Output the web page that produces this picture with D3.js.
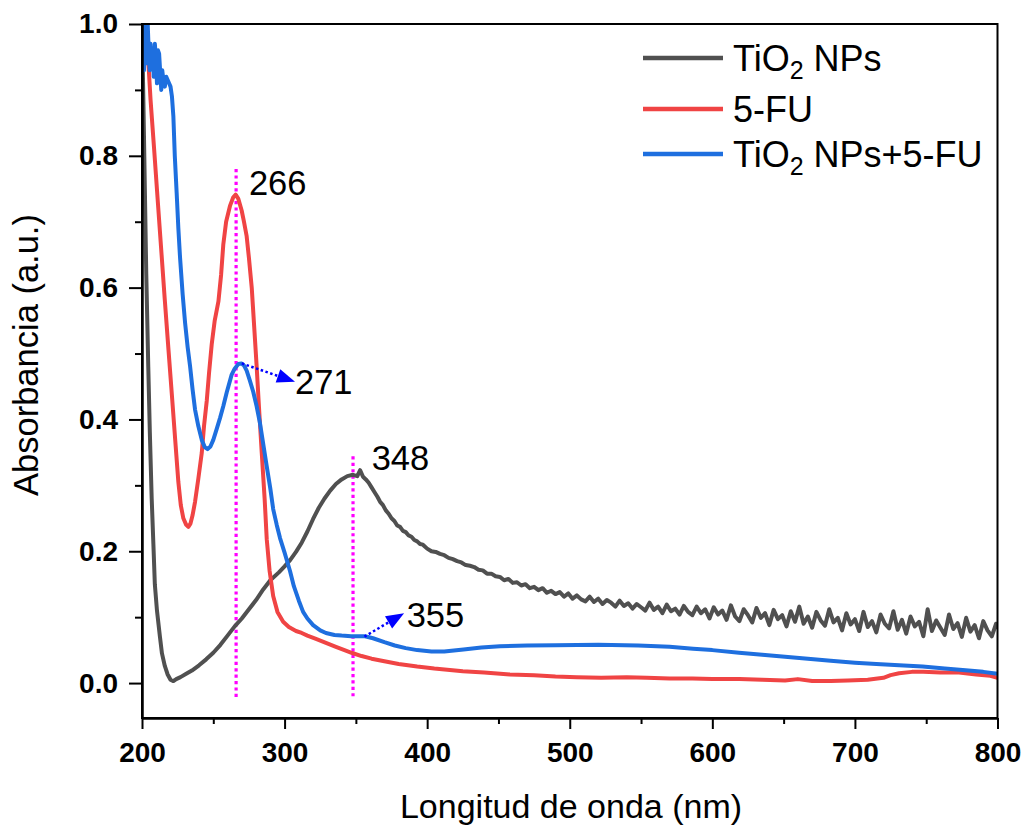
<!DOCTYPE html>
<html>
<head>
<meta charset="utf-8">
<script src="https://cdn.jsdelivr.net/npm/d3@7"></script>
<style>
body{margin:0;background:#fff;}
svg{display:block;font-family:"Liberation Sans",Arial,sans-serif;}
</style>
</head>
<body>
<div id="canvas"></div>
<script>
// TiO2 NPs (grey)
var tioWl = [200,201,202,203,204.4,205.5,206.8,208,209,210.5,212.6,214,216,218,220,222,224,227,231,235,240,245,250,255,260,265,270,275,280,285,290,296,300,304,308,312,316,320,324,328,332,336,340,344,348,351,353,355,357,359,361,363,365,367,369,371,373,375,377,379,381,383,385,387,389,391,393,395,397,
  400,403,406,409,412,415,418,421,424,427,430,433,436,439,442,445,448,451,454,457,460,463,466,469,472,475,478,481,484,487,490,493,496,499,502,505,508,511,514,517,520,523,526,529,532,535,538,541,544,547,550,553,556,559,562,565,568,571,574,577,580,583,586,589,592,595,598,601,604,607,610,613,616,619,622,625,628,631,634,637,640,643,646,649,652,655,658,661,664,667,670,673,676,679,682,685,688,691,694,697,700,703,706,709,712,715,718,721,724,727,730,733,736,739,742,745,748,751,754,757,760,763,766,769,772,775,778,781,784,787,790,793,796,799,800];
var tioAbs = [1.0,0.88,0.75,0.62,0.48,0.38,0.28,0.21,0.15,0.11,0.07,0.045,0.026,0.013,0.005,0.003,0.006,0.009,0.014,0.019,0.027,0.036,0.046,0.058,0.072,0.086,0.098,0.112,0.126,0.142,0.156,0.168,0.177,0.187,0.199,0.213,0.23,0.249,0.266,0.28,0.292,0.302,0.309,0.314,0.316,0.314,0.323,0.313,0.309,0.304,0.297,0.290,0.283,0.275,0.270,0.262,0.257,0.250,0.246,0.239,0.237,0.231,0.229,0.224,0.222,0.217,0.215,0.211,0.210,
  0.204,0.200,0.199,0.196,0.194,0.190,0.188,0.185,0.183,0.179,0.178,0.176,0.172,0.171,0.166,0.166,0.162,0.161,0.156,0.158,0.152,0.153,0.148,0.150,0.144,0.146,0.141,0.144,0.137,0.140,0.135,0.138,0.131,0.136,0.128,0.133,0.127,0.124,0.131,0.123,0.128,0.120,0.126,0.122,0.116,0.125,0.117,0.121,0.113,0.120,0.115,0.110,0.122,0.111,0.116,0.106,0.119,0.109,0.113,0.104,0.117,0.108,0.103,0.116,0.106,0.112,0.098,0.115,0.104,0.110,0.096,0.118,0.101,0.094,0.112,0.103,0.092,0.114,0.099,0.106,0.088,0.111,0.097,0.103,0.086,0.109,0.093,0.116,0.090,0.101,0.084,0.108,0.095,0.087,0.112,0.092,0.099,0.080,0.106,0.089,0.097,0.079,0.108,0.085,0.094,0.077,0.104,0.090,0.083,0.109,0.081,0.096,0.075,0.101,0.086,0.093,0.071,0.112,0.079,0.095,0.084,0.073,0.104,0.082,0.091,0.070,0.099,0.078,0.088,0.068,0.094,0.080,0.071,0.090,0.082];

// 5-FU (red)
var fuWl = [200,202,204,206,208.5,211,213.5,216,218.6,221.2,223.6,225.5,227.2,229,231,232.5,234,235.5,237.2,239.5,241.9,243.5,245.4,247,248.9,251,253.6,255.5,257,259,261.7,264,265.7,267.5,269.9,271.5,273.4,275,277,278.7,280.4,282,284,286,287.5,289.5,292,295,299,303,308,312,316,322,329,336,342,347,354,361,370,380,393,405,425,440,458,475,490,505,522,540,554,570,586,600,619,635,651,660,670,683,695,709,720,725,731,740,748,760,773,785,795,800];
var fuAbs = [0.99,1.0,0.96,0.885,0.81,0.733,0.657,0.581,0.505,0.43,0.36,0.305,0.27,0.25,0.24,0.237,0.242,0.255,0.275,0.31,0.349,0.39,0.428,0.47,0.514,0.55,0.579,0.62,0.665,0.70,0.724,0.737,0.741,0.735,0.717,0.70,0.678,0.645,0.599,0.54,0.481,0.42,0.349,0.28,0.218,0.17,0.132,0.108,0.093,0.085,0.079,0.076,0.072,0.067,0.061,0.055,0.05,0.046,0.041,0.037,0.033,0.029,0.025,0.022,0.018,0.016,0.013,0.012,0.010,0.009,0.008,0.009,0.008,0.007,0.007,0.006,0.006,0.005,0.004,0.006,0.003,0.003,0.004,0.005,0.008,0.012,0.015,0.017,0.017,0.016,0.016,0.013,0.011,0.008];

// TiO2 NPs + 5-FU (blue)
var mixWl = [200,200.7,201.4,202,202.7,203.4,204,204.7,205.4,206,206.8,207.5,208.2,209,209.7,210.5,211.2,212,212.7,213.5,214.2,215,216,217,218,219,220,221,222,223,224.3,225.5,226.7,228.5,230.2,232,233.7,235.5,237.2,239.5,241.9,244,246,248,250,252.3,254.7,257,259.4,262.9,265,267.6,269.9,271.5,273.4,275.5,278,280.4,282.7,285,287.4,290,292,294.5,296.8,300,303.8,306.5,310,313,316,320,325,329,335,340,346.6,352,356.4,362,370,377.3,385,393,403,412,425.5,438,451,470,490,520,548,570,586.5,600,618.7,635,651,667,683,700,715,731,747.5,763,779.7,790,800];
var mixAbs = [0.95,1.0,0.93,0.99,0.94,1.0,1.0,0.96,0.93,0.97,0.94,0.96,0.92,0.97,0.95,0.91,0.96,0.955,0.93,0.90,0.93,0.915,0.905,0.92,0.915,0.91,0.905,0.89,0.86,0.80,0.744,0.69,0.645,0.59,0.547,0.51,0.481,0.445,0.415,0.39,0.369,0.358,0.355,0.359,0.369,0.385,0.402,0.42,0.441,0.468,0.477,0.484,0.485,0.482,0.474,0.46,0.442,0.42,0.395,0.363,0.33,0.295,0.264,0.24,0.22,0.198,0.17,0.147,0.125,0.108,0.098,0.088,0.08,0.076,0.073,0.072,0.071,0.071,0.071,0.068,0.062,0.057,0.053,0.05,0.048,0.048,0.051,0.054,0.056,0.057,0.0575,0.058,0.057,0.055,0.052,0.05,0.046,0.043,0.040,0.037,0.034,0.031,0.029,0.027,0.025,0.022,0.019,0.017,0.014];

var seriesNames = ['TiO2 NPs','5-FU','TiO2 NPs+5-FU'];
var seriesColors = ['#505050','#f04444','#1e6fdf'];
var xTicks = [200,300,400,500,600,700,800];
var yTicks = [0.0,0.2,0.4,0.6,0.8,1.0];
var peakLines = [{nm:266, top:0.78},{nm:348, top:0.344}];

var W = 1024, H = 825;
var m = {t:24, r:26.5, b:107, l:142};
var w = W - m.l - m.r, h = H - m.t - m.b;

var svg = d3.select('#canvas').append('svg')
    .attr('width', W).attr('height', H);
var plot = svg.append('g').attr('transform','translate(' + m.l + ',' + m.t + ')');

var x = d3.scaleLinear().domain([200,800]).range([0,w]);
var y = d3.scaleLinear().domain([-0.053,1.0]).range([h,0]);

plot.append('clipPath').attr('id','clip')
  .append('rect').attr('width', w).attr('height', h);

// peak guide lines
plot.selectAll('.peak').data(peakLines).enter().append('line')
    .attr('x1', d => x(d.nm)).attr('x2', d => x(d.nm))
    .attr('y1', d => y(d.top)).attr('y2', y(-0.025))
    .attr('stroke','#ff00ff').attr('stroke-width',3.2)
    .attr('stroke-dasharray','3.2,3.2');

var line = d3.line().x(d => x(d[0])).y(d => y(d[1]));
var series = [d3.zip(tioWl, tioAbs), d3.zip(fuWl, fuAbs), d3.zip(mixWl, mixAbs)];

plot.append('g').attr('clip-path','url(#clip)')
  .selectAll('path').data(series).enter().append('path')
    .attr('d', line)
    .attr('fill','none')
    .attr('stroke', (d,i) => seriesColors[i])
    .attr('stroke-width', 4)
    .attr('stroke-linejoin','round');

// axes
plot.append('g').call(d3.axisLeft(y).tickValues(yTicks).tickFormat(d3.format('.1f')).tickSize(13).tickSizeOuter(0).tickPadding(11));
plot.append('g').call(d3.axisLeft(y).tickValues([0.1,0.3,0.5,0.7,0.9]).tickFormat('').tickSize(7).tickSizeOuter(0));
plot.append('g').attr('transform','translate(0,' + h + ')')
    .call(d3.axisBottom(x).tickValues(xTicks).tickSize(11).tickSizeOuter(0).tickPadding(13));
plot.append('g').attr('transform','translate(0,' + h + ')')
    .call(d3.axisBottom(x).tickValues([250,350,450,550,650,750]).tickFormat('').tickSize(6).tickSizeOuter(0));

plot.selectAll('.domain').attr('stroke','#000').attr('stroke-width',2);
plot.selectAll('.tick line').attr('stroke','#000').attr('stroke-width',2);
plot.selectAll('.tick text').attr('font-size',28).attr('font-weight','bold')
    .attr('font-family','"Liberation Sans",Arial,sans-serif').attr('fill','#000');

plot.append('rect').attr('width', w).attr('height', h)
    .attr('fill','none').attr('stroke','#000').attr('stroke-width',2);

// axis titles
svg.append('text').attr('x', 571).attr('y', 818).attr('text-anchor','middle')
    .attr('font-size',34).text('Longitud de onda (nm)');
svg.append('text').attr('transform','translate(38,355) rotate(-90)').attr('text-anchor','middle')
    .attr('font-size',34.5).text('Absorbancia (a.u.)');

// peak labels
var labels = [{t:'266', nm:275, a:0.741},{t:'271', nm:307.3, a:0.439},{t:'348', nm:361.1, a:0.3235},{t:'355', nm:385.6, a:0.0856}];
plot.selectAll('.lab').data(labels).enter().append('text')
    .attr('x', d => x(d.nm)).attr('y', d => y(d.a))
    .attr('font-size',34.5).text(d => d.t);

// dotted arrows
var arrows = [{from:[270,0.485], to:[307.3,0.457]},{from:[356,0.0705], to:[383.8,0.106]}];
arrows.forEach(function(a){
  var x1 = x(a.from[0]), y1 = y(a.from[1]), x2 = x(a.to[0]), y2 = y(a.to[1]);
  var ang = Math.atan2(y2 - y1, x2 - x1);
  var len = 18, hw = 7;
  var bx = x2 - len*Math.cos(ang), by = y2 - len*Math.sin(ang);
  plot.append('line').attr('x1',x1).attr('y1',y1).attr('x2',bx).attr('y2',by)
      .attr('stroke','#0000ff').attr('stroke-width',2.5).attr('stroke-dasharray','2.5,2.5');
  var pts = [[x2,y2],[bx - hw*Math.sin(ang), by + hw*Math.cos(ang)],[bx + hw*Math.sin(ang), by - hw*Math.cos(ang)]];
  plot.append('polygon').attr('points', pts.map(p => p.join(',')).join(' ')).attr('fill','#0000ff');
});

// legend
var legY = [58,109,154];
var leg = svg.append('g');
seriesNames.forEach(function(name,i){
  leg.append('line').attr('x1',643).attr('x2',723).attr('y1',legY[i]).attr('y2',legY[i])
     .attr('stroke',seriesColors[i]).attr('stroke-width',4.5);
  var t = leg.append('text').attr('x',733).attr('y',legY[i]+13).attr('font-size',36);
  if (name.indexOf('TiO2') === 0) {
    t.append('tspan').text('TiO');
    t.append('tspan').attr('dy',8).attr('font-size',25).text('2');
    t.append('tspan').attr('dy',-8).text(name.slice(4));
  } else {
    t.text(name);
  }
});
</script>
</body>
</html>
